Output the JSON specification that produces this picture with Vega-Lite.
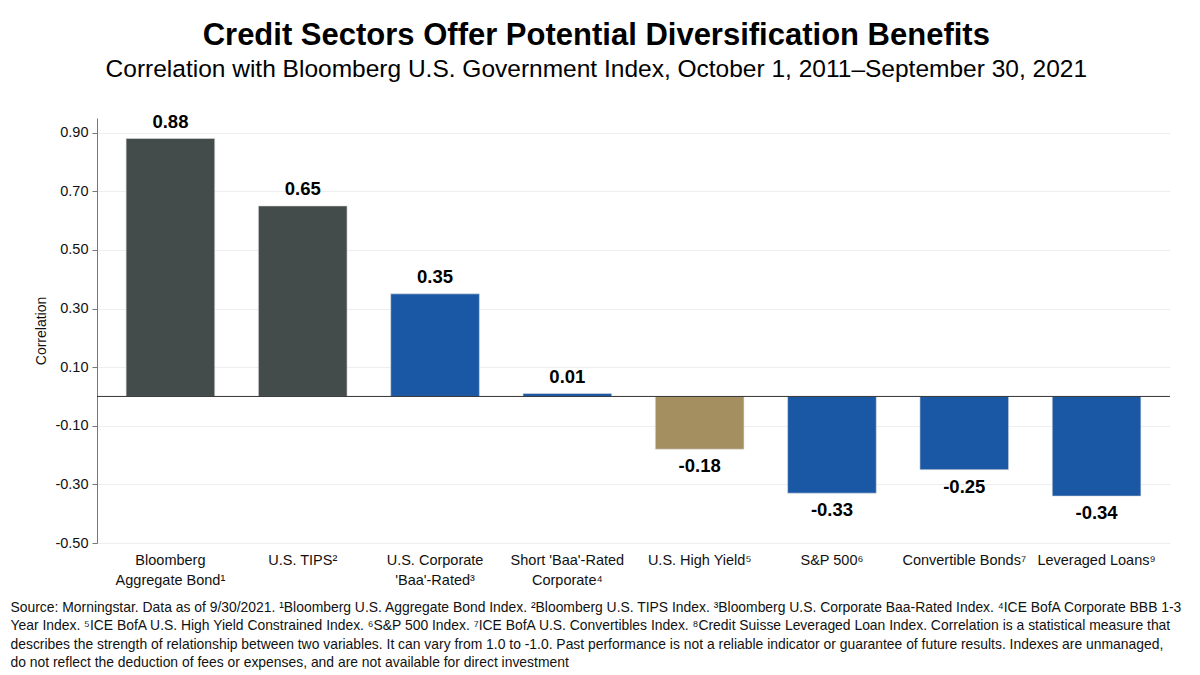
{
  "$schema": "https://vega.github.io/schema/vega-lite/v6.json",
  "width": 1073,
  "height": 425,
  "autosize": {"type": "none"},
  "padding": {"left": 97, "top": 118, "right": 30, "bottom": 132},
  "background": "white",
  "config": {
    "font": "Liberation Sans",
    "view": {"stroke": null}
  },
  "title": {
    "text": "Credit Sectors Offer Potential Diversification Benefits",
    "subtitle": "Correlation with Bloomberg U.S. Government Index, October 1, 2011–September 30, 2021",
    "anchor": "middle",
    "frame": "bounds",
    "dx": 0,
    "offset": 30,
    "font": "Liberation Sans",
    "fontSize": 31,
    "fontWeight": "bold",
    "color": "#000000",
    "subtitleFont": "Liberation Sans",
    "subtitleFontSize": 24.5,
    "subtitleColor": "#000000",
    "subtitlePadding": 6
  },
  "data": {
    "values": [
      {"sector": "Bloomberg|Aggregate Bond¹", "corr": 0.88, "group": "core"},
      {"sector": "U.S. TIPS²", "corr": 0.65, "group": "core"},
      {"sector": "U.S. Corporate|'Baa'-Rated³", "corr": 0.35, "group": "credit"},
      {"sector": "Short 'Baa'-Rated|Corporate⁴", "corr": 0.01, "group": "credit"},
      {"sector": "U.S. High Yield⁵", "corr": -0.18, "group": "hy"},
      {"sector": "S&P 500⁶", "corr": -0.33, "group": "credit"},
      {"sector": "Convertible Bonds⁷", "corr": -0.25, "group": "credit"},
      {"sector": "Leveraged Loans⁹", "corr": -0.34, "group": "credit"}
    ]
  },
  "encoding": {
    "x": {
      "field": "sector",
      "type": "nominal",
      "sort": null,
      "scale": {"paddingInner": 0.33, "paddingOuter": 0.22},
      "axis": {
        "title": [
          "Source: Morningstar. Data as of 9/30/2021. ¹Bloomberg U.S. Aggregate Bond Index. ²Bloomberg U.S. TIPS Index. ³Bloomberg U.S. Corporate Baa-Rated Index. ⁴ICE BofA Corporate BBB 1-3",
          "Year Index. ⁵ICE BofA U.S. High Yield Constrained Index. ⁶S&P 500 Index. ⁷ICE BofA U.S. Convertibles Index. ⁸Credit Suisse Leveraged Loan Index. Correlation is a statistical measure that",
          "describes the strength of relationship between two variables. It can vary from 1.0 to -1.0. Past performance is not a reliable indicator or guarantee of future results. Indexes are unmanaged,",
          "do not reflect the deduction of fees or expenses, and are not available for direct investment"
        ],
        "titleAnchor": "start",
        "titleAlign": "left",
        "titleBaseline": "top",
        "titleX": -87,
        "titleY": 57,
        "titleFont": "Liberation Sans",
        "titleFontSize": 13.9,
        "titleFontWeight": "normal",
        "titleColor": "#111111",
        "titleLineHeight": 18.5,
        "labelExpr": "split(datum.label, '|')",
        "labelAngle": 0,
        "labelFontSize": 14.5,
        "labelColor": "#111111",
        "labelPadding": 10,
        "labelLineHeight": 20,
        "labelLimit": 200,
        "domain": false,
        "ticks": false
      }
    },
    "y": {
      "field": "corr",
      "type": "quantitative",
      "scale": {"domain": [-0.5, 0.95], "nice": false, "zero": false},
      "axis": {
        "title": "Correlation",
        "titleFontSize": 14,
        "titleFontWeight": "normal",
        "titleColor": "#111111",
        "titlePadding": 6,
        "values": [-0.5, -0.3, -0.1, 0.1, 0.3, 0.5, 0.7, 0.9],
        "format": ".2f",
        "labelExpr": "replace(datum.label, '\u2212', '-')",
        "labelFontSize": 14.5,
        "labelColor": "#111111",
        "labelPadding": 4,
        "tickColor": "#777777",
        "tickSize": 5,
        "domainColor": "#777777",
        "gridColor": "#eeeeee",
        "grid": true
      }
    }
  },
  "layer": [
    {
      "mark": {"type": "bar", "stroke": "#dddddd", "strokeWidth": 0.6},
      "encoding": {
        "color": {
          "field": "group",
          "type": "nominal",
          "scale": {"domain": ["core", "credit", "hy"], "range": ["#434c4b", "#1a57a5", "#a38f60"]},
          "legend": null
        }
      }
    },
    {
      "data": {"values": [{"zero": 0}]},
      "mark": {"type": "rule", "color": "#333333", "strokeWidth": 1},
      "encoding": {"y": {"field": "zero", "type": "quantitative"}, "x": null}
    },
    {
      "transform": [{"filter": "datum.corr >= 0"}],
      "mark": {"type": "text", "baseline": "bottom", "dy": -7, "fontSize": 18.5, "fontWeight": "bold", "color": "#000000", "text": {"expr": "replace(format(datum.corr, '.2f'), '\u2212', '-')"}},
      "encoding": {}
    },
    {
      "transform": [{"filter": "datum.corr < 0"}],
      "mark": {"type": "text", "baseline": "top", "dy": 8, "fontSize": 18.5, "fontWeight": "bold", "color": "#000000", "text": {"expr": "replace(format(datum.corr, '.2f'), '\u2212', '-')"}},
      "encoding": {}
    }
  ]
}
